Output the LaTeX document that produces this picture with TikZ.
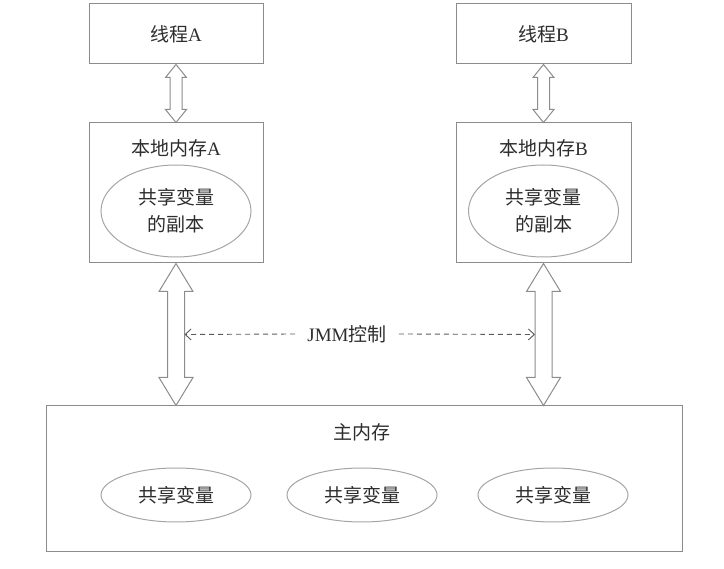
\documentclass[tikz,border=0pt]{standalone}
\usepackage{fontspec}
\setmainfont{Liberation Serif}
\newfontfamily\cjk{Noto Sans CJK SC}
\usetikzlibrary{arrows.meta,calc,shapes.geometric}
\definecolor{linegray}{RGB}{140,140,140}
\definecolor{ellgray}{RGB}{165,165,165}
\definecolor{dashgray}{RGB}{90,90,90}
\definecolor{textgray}{RGB}{45,45,45}
\newcommand\hollowarrow[5]{%
  \draw[arrowline] let \p1=(#1), \p2=(#2) in
    (\x1,\y1) -- (\x1+#4,\y1-#5) -- (\x1+#3,\y1-#5) -- (\x1+#3,\y2+#5)
    -- (\x1+#4,\y2+#5) -- (\x1,\y2) -- (\x1-#4,\y2+#5) -- (\x1-#3,\y2+#5)
    -- (\x1-#3,\y1-#5) -- (\x1-#4,\y1-#5) -- cycle;}
\begin{document}
\begin{tikzpicture}[x=1pt,y=-1pt,
  every node/.style={text=textgray, font=\fontsize{19}{25}\selectfont},
  box/.style={draw=linegray, line width=1pt, inner sep=0pt},
  oval/.style={ellipse, draw=ellgray, line width=1pt, inner sep=0pt, align=center},
  arrowline/.style={draw=linegray, line width=1pt, fill=white, line join=miter},
  ctrl/.style={draw=dashgray, line width=0.9pt, dash pattern=on 5pt off 4pt,
    -{Straight Barb[length=6pt,width=11pt]}}]
\useasboundingbox (0,0) rectangle (724,569);
% thread boxes
\node[box, minimum width=174pt, minimum height=60pt] (tA) at (176,34) {{\cjk 线程}A};
\node[box, minimum width=175pt, minimum height=60pt] (tB) at (543.5,34) {{\cjk 线程}B};
% local memory boxes
\node[box, minimum width=174pt, minimum height=140pt] (lA) at (176,193) {};
\node[box, minimum width=175pt, minimum height=140pt] (lB) at (543.5,193) {};
\node (lAt) at (176,148) {{\cjk 本地内存}A};
\node (lBt) at (543.5,148) {{\cjk 本地内存}B};
\node[oval, minimum width=150pt, minimum height=92pt] (eA) at (176,211) {\cjk 共享变量\\[2pt]\cjk 的副本};
\node[oval, minimum width=150pt, minimum height=92pt] (eB) at (543.5,211) {\cjk 共享变量\\[2pt]\cjk 的副本};
% main memory
\node[box, minimum width=636pt, minimum height=146pt] (main) at (364,479) {};
\node (mt) at (362,432) {\cjk 主内存};
\node[oval, minimum width=150pt, minimum height=54pt] (m1) at (176,495) {\cjk 共享变量};
\node[oval, minimum width=150pt, minimum height=54pt] (m2) at (362,495) {\cjk 共享变量};
\node[oval, minimum width=150pt, minimum height=54pt] (m3) at (553,495) {\cjk 共享变量};
% hollow double arrows
\hollowarrow{tA.south}{lA.north}{6pt}{10.5pt}{13pt}
\hollowarrow{tB.south}{lB.north}{6pt}{10.5pt}{13pt}
\hollowarrow{lA.south}{main.north}{8.5pt}{17pt}{28pt}
\hollowarrow{lB.south}{main.north}{8.5pt}{17pt}{28pt}
% JMM control
\coordinate (dl) at ($(lA.south)+(8.5,71)$);
\coordinate (dr) at ($(lB.south)+(-8.5,71)$);
\node[inner xsep=12pt] (jmm) at (347,334) {JMM{\cjk 控制}};
\draw[ctrl] (jmm.west) -- (dl);
\draw[ctrl] (jmm.east) -- (dr);
\end{tikzpicture}
\end{document}
